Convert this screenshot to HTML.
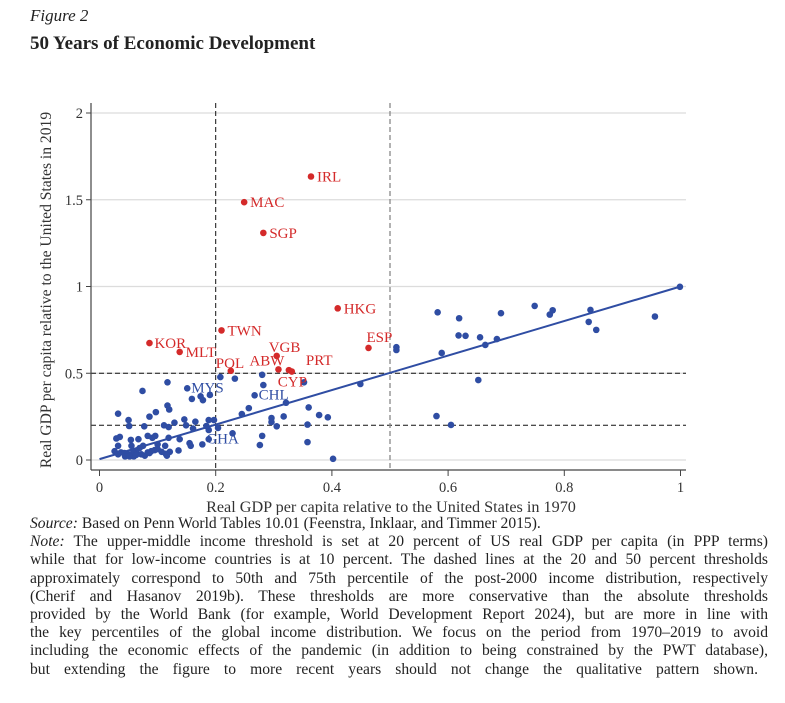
<!DOCTYPE html>
<html><head><meta charset="utf-8"><style>
html,body{margin:0;padding:0;background:#fff;}
body{width:785px;height:703px;position:relative;overflow:hidden;font-family:"Liberation Serif",serif;color:#222;}
.fig{position:absolute;left:30px;top:6px;font-style:italic;font-size:17px;}
.title{position:absolute;left:30px;top:33px;font-weight:bold;font-size:19px;}
.notes{position:absolute;left:30px;top:515px;width:738px;font-size:15.6px;line-height:18.2px;}
.notes div{text-align:justify;text-align-last:justify;white-space:nowrap;}
.notes div.last{text-align-last:left;}
.notes div.end{width:728px;}
svg{position:absolute;left:0;top:0;}
</style></head><body>
<div class="fig">Figure 2</div>
<div class="title">50 Years of Economic Development</div>
<svg id="chart" width="785" height="515"></svg>
<div class="notes">
<div class="last"><i>Source:</i> Based on Penn World Tables 10.01 (Feenstra, Inklaar, and Timmer 2015).</div>
<div><i>Note:</i> The upper-middle income threshold is set at 20 percent of US real GDP per capita (in PPP terms)</div>
<div>while that for low-income countries is at 10 percent. The dashed lines at the 20 and 50 percent thresholds</div>
<div>approximately correspond to 50th and 75th percentile of the post-2000 income distribution, respectively</div>
<div>(Cherif and Hasanov 2019b). These thresholds are more conservative than the absolute thresholds</div>
<div>provided by the World Bank (for example, World Development Report 2024), but are more in line with</div>
<div>the key percentiles of the global income distribution. We focus on the period from 1970–2019 to avoid</div>
<div>including the economic effects of the pandemic (in addition to being constrained by the PWT database),</div>
<div class="end">but extending the figure to more recent years should not change the qualitative pattern shown.</div>
</div>
<script>
const xTicks=[0,0.2,0.4,0.6,0.8,1];
const xTickLabels=["0","0.2","0.4","0.6","0.8","1"];
const yTicks=[0,0.5,1,1.5,2];
const yTickLabels=["0","0.5","1","1.5","2"];
const redNames=["IRL","MAC","SGP","HKG","TWN","KOR","MLT","ESP","VGB","POL","ABW","PRT","CYP"];
const redX=[0.364,0.249,0.282,0.41,0.21,0.086,0.138,0.463,0.305,0.226,0.308,0.326,0.331];
const redY=[1.634,1.486,1.309,0.874,0.747,0.674,0.623,0.646,0.600,0.514,0.522,0.518,0.51];
const blueX=[0.208,0.233,0.280,0.282,0.352,0.449,0.151,0.117,0.074,0.159,0.174,0.178,0.19,0.267,0.321,0.257,0.245,0.36,0.378,0.393,0.317,0.296,0.296,0.305,0.358,0.358,0.280,0.276,0.229,0.402,0.204,0.197,0.188,0.188,0.188,0.177,0.184,0.165,0.161,0.155,0.157,0.146,0.149,0.136,0.138,0.129,0.119,0.111,0.117,0.12,0.097,0.086,0.077,0.05,0.032,0.051,0.119,0.113,0.121,0.114,0.116,0.096,0.091,0.083,0.095,0.089,0.1,0.075,0.069,0.063,0.059,0.059,0.054,0.055,0.067,0.029,0.035,0.032,0.026,0.032,0.037,0.043,0.05,0.058,0.044,0.052,0.063,0.072,0.078,0.083,0.086,0.1,0.107,0.511,0.511,0.582,0.619,0.618,0.63,0.589,0.655,0.664,0.684,0.691,0.749,0.775,0.78,0.845,0.842,0.855,0.956,0.999,0.652,0.58,0.605];
const blueY=[0.478,0.469,0.491,0.432,0.448,0.438,0.413,0.448,0.398,0.352,0.367,0.345,0.375,0.373,0.33,0.299,0.265,0.303,0.259,0.246,0.251,0.242,0.219,0.194,0.204,0.103,0.139,0.086,0.154,0.007,0.185,0.23,0.23,0.173,0.12,0.09,0.196,0.221,0.181,0.097,0.082,0.234,0.2,0.055,0.12,0.215,0.19,0.2,0.314,0.291,0.276,0.25,0.194,0.23,0.267,0.196,0.128,0.082,0.047,0.036,0.025,0.139,0.128,0.139,0.057,0.051,0.09,0.082,0.069,0.051,0.036,0.021,0.116,0.082,0.12,0.124,0.133,0.082,0.051,0.033,0.044,0.04,0.033,0.044,0.021,0.021,0.029,0.033,0.025,0.044,0.04,0.063,0.047,0.65,0.634,0.851,0.817,0.718,0.716,0.617,0.707,0.663,0.697,0.846,0.888,0.838,0.863,0.865,0.796,0.75,0.827,0.998,0.461,0.253,0.202];
const blueNames=["MYS","CHL","GHA"];
const blueNameX=[0.151,0.267,0.177];
const blueNameY=[0.413,0.373,0.09];
const fitIntercept=0.005, fitSlope=0.995;

const NS="http://www.w3.org/2000/svg";
const svg=document.getElementById('chart');
const X0=99.5,XU=581,Y0=460,YU=173.5;
const sx=v=>X0+v*XU, sy=v=>Y0-v*YU;
function mk(tag,attrs,parent){const e=document.createElementNS(NS,tag);for(const k in attrs)e.setAttribute(k,attrs[k]);(parent||svg).appendChild(e);return e;}
const RED="#d42a2a",BLUE="#2f4da3";
yTicks.forEach((t,i)=>{
 const g=mk('line',{x1:91,x2:686,y1:sy(t),y2:sy(t),stroke:'#dcdcdc','stroke-width':1.2});
 
 
 const tk=mk('line',{x1:86,x2:91,y1:sy(t),y2:sy(t),stroke:'#444'});
 
 
 const lb=mk('text',{x:83,y:sy(t)+5,'text-anchor':'end','font-size':14.5,fill:'#333','font-family':'Liberation Serif, serif'});
 lb.textContent=yTickLabels[i];
 
 
});
xTicks.forEach((t,i)=>{
 const tk=mk('line',{x1:sx(t),x2:sx(t),y1:470,y2:476,stroke:'#444'});
 
 
 const lb=mk('text',{x:sx(t),y:492,'text-anchor':'middle','font-size':14.5,fill:'#333','font-family':'Liberation Serif, serif'});
 lb.textContent=xTickLabels[i];
 
 
});
[0.5,0.2].forEach(v=>{
 const l=mk('line',{x1:91,x2:686,y1:sy(v),y2:sy(v),stroke:'#111','stroke-width':1,'stroke-dasharray':'5,3'});
 
 
});
const v1=mk('line',{x1:sx(0.2),x2:sx(0.2),y1:103,y2:470,stroke:'#111','stroke-width':1,'stroke-dasharray':'5,3'});


const v2=mk('line',{x1:sx(0.5),x2:sx(0.5),y1:103,y2:470,stroke:'#888','stroke-width':1.3,'stroke-dasharray':'5,3'});


const ya=mk('line',{x1:91,x2:91,y1:103,y2:470,stroke:'#444','stroke-width':1.2});


const xa=mk('line',{x1:91,x2:686,y1:470,y2:470,stroke:'#444','stroke-width':1.2});


const fl=mk('line',{x1:sx(0),y1:sy(fitIntercept),x2:sx(1),y2:sy(fitIntercept+fitSlope),stroke:BLUE,'stroke-width':2});


blueX.forEach((x,i)=>{
 const c=mk('circle',{cx:sx(x),cy:sy(blueY[i]),r:3.3,fill:BLUE});
 
 
});
blueNames.forEach((n,i)=>{
 const t=mk('text',{x:sx(blueNameX[i])+4,y:sy(blueNameY[i])+(n==='GHA'?-1:4),'font-size':15,fill:BLUE,'font-family':'Liberation Serif, serif'});
 t.textContent=n;
 
 
});
const redLabelDx=[6,6,6,6,6,5,6,-2,-8,-15,-29,17,-14];
const redLabelDy=[5,5,5,5,5,5,5,-6,-4,-3,-4,-5,15];
redX.forEach((x,i)=>{
 const c=mk('circle',{cx:sx(x),cy:sy(redY[i]),r:3.3,fill:RED});
 
 
 const t=mk('text',{x:sx(x)+redLabelDx[i],y:sy(redY[i])+redLabelDy[i],'font-size':15,fill:RED,'font-family':'Liberation Serif, serif'});
 t.textContent=redNames[i];
 
 
});
const xt=mk('text',{x:391,y:512,'text-anchor':'middle','font-size':16.2,fill:'#333','font-family':'Liberation Serif, serif'});
xt.textContent='Real GDP per capita relative to the United States in 1970';


const yt=mk('text',{x:0,y:0,'text-anchor':'middle','font-size':15.6,fill:'#333','font-family':'Liberation Serif, serif',transform:'translate(51,290) rotate(-90)'});
yt.textContent='Real GDP per capita relative to the United States in 2019';


</script>
</body></html>
